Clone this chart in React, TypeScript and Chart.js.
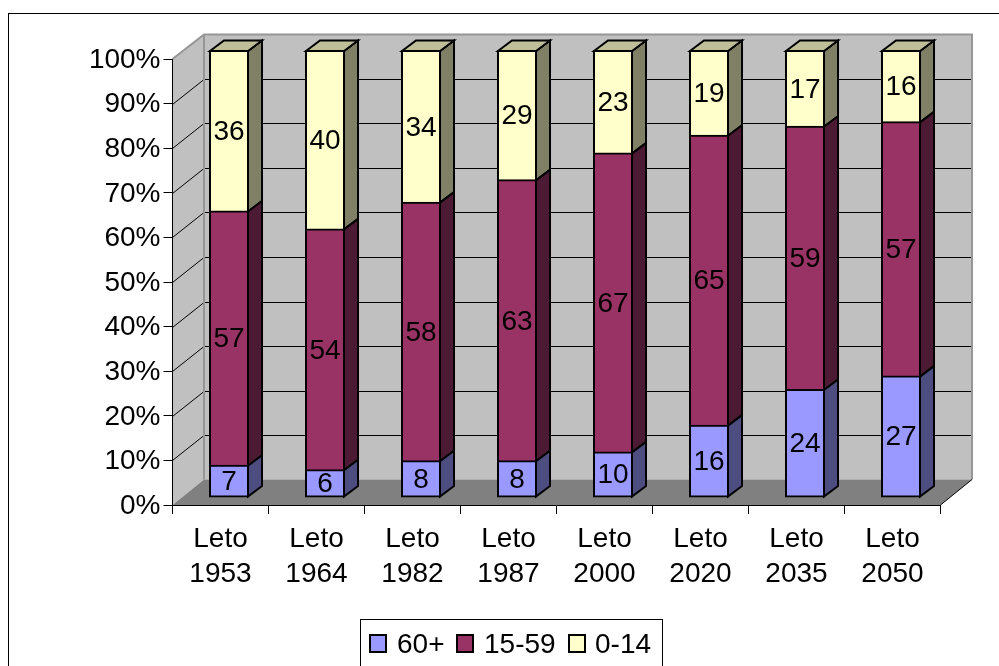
import React, { useEffect, useRef } from "react";
import { Chart, registerables } from "chart.js";

Chart.register(...registerables);

const categories = [
  ["Leto", "1953"], ["Leto", "1964"], ["Leto", "1982"], ["Leto", "1987"],
  ["Leto", "2000"], ["Leto", "2020"], ["Leto", "2035"], ["Leto", "2050"],
];
const seniors = [7, 6, 8, 8, 10, 16, 24, 27];
const adults = [57, 54, 58, 63, 67, 65, 59, 57];
const children = [36, 40, 34, 29, 23, 19, 17, 16];

const FONT = '"Liberation Sans", Arial, sans-serif';
const WALL_DX = 31.5, WALL_DY = -24.5; // depth of the chart box
const BAR_DX = 8.5, BAR_DY = -8;       // where the bars stand inside the box
const SIDE_DX = 14, SIDE_DY = -10.5;   // depth of each bar

const poly = (ctx: CanvasRenderingContext2D, pts: number[][], fill: string | null, stroke?: string, lw = 1) => {
  ctx.beginPath();
  pts.forEach((p, i) => (i ? ctx.lineTo(p[0], p[1]) : ctx.moveTo(p[0], p[1])));
  ctx.closePath();
  if (fill) { ctx.fillStyle = fill; ctx.fill(); }
  if (stroke) { ctx.strokeStyle = stroke; ctx.lineWidth = lw; ctx.stroke(); }
};

const box3d = {
  id: "box3d",
  beforeDraw(chart: any) {
    const { ctx, chartArea: a, scales } = chart;
    ctx.save();
    // outer frame (runs off the right and bottom of the picture)
    ctx.strokeStyle = "#000";
    ctx.lineWidth = 1;
    ctx.strokeRect(8.5, 13.5, 1100, 800);
    const L = a.left, R = a.right, T = a.top, B = a.bottom;
    const bx = L + WALL_DX, rx = R + WALL_DX, ty = T + WALL_DY, by = B + WALL_DY - 1;
    // side wall, back wall, floor
    poly(ctx, [[L, T], [bx, ty], [bx, by], [L, B]], "#c0c0c0");
    ctx.fillStyle = "#c0c0c0";
    ctx.fillRect(bx, ty, rx - bx, by - ty);
    poly(ctx, [[L, B], [R, B], [rx, by], [bx, by]], "#808080");
    // gridlines
    ctx.strokeStyle = "#000";
    ctx.lineWidth = 1;
    for (let v = 10; v <= 90; v += 10) {
      const y = Math.round(scales.y.getPixelForValue(v)) + 0.5;
      const backY = y + Math.floor(WALL_DY);
      ctx.beginPath();
      ctx.moveTo(L, y);
      ctx.lineTo(bx, backY);
      ctx.lineTo(rx, backY);
      ctx.stroke();
    }
    // wall edges
    ctx.strokeStyle = "#969696";
    ctx.lineWidth = 2;
    ctx.beginPath();
    ctx.moveTo(L, T);
    ctx.lineTo(bx, ty);
    ctx.lineTo(rx, ty);
    ctx.lineTo(rx, by);
    ctx.moveTo(bx, ty);
    ctx.lineTo(bx, by);
    ctx.stroke();
    ctx.strokeStyle = "#000";
    ctx.lineWidth = 1;
    ctx.beginPath();
    ctx.moveTo(R, B);
    ctx.lineTo(rx, by);
    ctx.stroke();
    ctx.restore();
  },
  beforeDatasetDraw(chart: any, args: any) {
    const { ctx } = chart;
    ctx.save();
    ctx.translate(BAR_DX, BAR_DY);
    const ds = chart.data.datasets[args.index];
    const meta = chart.getDatasetMeta(args.index);
    const last = args.index === chart.data.datasets.length - 1;
    meta.data.forEach((bar: any) => {
      const r = bar.x + bar.width / 2;
      const l = bar.x - bar.width / 2;
      poly(ctx, [[r, bar.y], [r + SIDE_DX, bar.y + SIDE_DY], [r + SIDE_DX, bar.base + SIDE_DY], [r, bar.base]], ds.sideColor, "#000", 2);
      if (last) {
        poly(ctx, [[l, bar.y], [l + SIDE_DX, bar.y + SIDE_DY], [r + SIDE_DX, bar.y + SIDE_DY], [r, bar.y]], ds.topColor, "#000", 2);
      }
    });
  },
  afterDatasetDraw(chart: any) {
    chart.ctx.restore();
  },
  afterDatasetsDraw(chart: any) {
    const { ctx } = chart;
    ctx.save();
    ctx.font = `28px ${FONT}`;
    ctx.fillStyle = "#000";
    ctx.textAlign = "center";
    ctx.textBaseline = "middle";
    chart.data.datasets.forEach((ds: any, i: number) => {
      chart.getDatasetMeta(i).data.forEach((bar: any, j: number) => {
        ctx.fillText(String(ds.data[j]), bar.x + BAR_DX, (bar.y + bar.base) / 2 + BAR_DY + 1);
      });
    });
    ctx.restore();
  },
  afterDraw(chart: any) {
    const { ctx } = chart;
    ctx.save();
    // legend
    ctx.strokeStyle = "#000";
    ctx.lineWidth = 1;
    ctx.strokeRect(360.5, 619.5, 302, 80);
    const swatches = [370, 457, 569];
    const texts = [397, 484, 595];
    ctx.font = `28px ${FONT}`;
    ctx.textAlign = "left";
    ctx.textBaseline = "alphabetic";
    chart.data.datasets.forEach((ds: any, i: number) => {
      ctx.fillStyle = ds.backgroundColor;
      ctx.fillRect(swatches[i], 635, 16, 17);
      ctx.lineWidth = 2;
      ctx.strokeStyle = "#000";
      ctx.strokeRect(swatches[i], 635, 16, 17);
      ctx.fillStyle = "#000";
      ctx.fillText(ds.label, texts[i], 653);
    });
    ctx.restore();
  },
};

export default function App() {
  const ref = useRef<HTMLCanvasElement>(null);
  useEffect(() => {
    const common = { borderColor: "#000", borderWidth: 2, inflateAmount: 1, barPercentage: 0.396, categoryPercentage: 1, clip: false };
    const chart = new Chart(ref.current!, {
      type: "bar",
      data: {
        labels: categories,
        datasets: [
          { label: "60+", data: seniors, backgroundColor: "#9999ff", sideColor: "#4d4d80", topColor: "#7373bf", borderSkipped: false, ...common },
          { label: "15-59", data: adults, backgroundColor: "#993366", sideColor: "#4d1a33", topColor: "#73264d", borderSkipped: "bottom", ...common },
          { label: "0-14", data: children, backgroundColor: "#ffffcc", sideColor: "#808066", topColor: "#bfbf99", borderSkipped: "bottom", ...common },
        ] as any,
      },
      options: {
        animation: false,
        responsive: false,
        events: [],
        layout: { padding: { left: 0, top: 59, right: 58.5, bottom: 0 } },
        plugins: { legend: { display: false }, tooltip: { enabled: false } },
        scales: {
          x: {
            stacked: true,
            afterFit: (s: any) => { s.height = 161; },
            grid: { drawOnChartArea: false, color: "#000", tickLength: 9 },
            border: { color: "#000", width: 1 },
            ticks: { color: "#000", font: { family: FONT, size: 28, lineHeight: 35 / 28 }, maxRotation: 0, autoSkip: false, padding: 8 },
          },
          y: {
            stacked: true,
            min: 0,
            max: 100,
            afterFit: (s: any) => { s.width = 172.5; },
            grid: { drawOnChartArea: false, color: "#000", tickLength: 9 },
            border: { color: "#000", width: 1 },
            ticks: { stepSize: 10, color: "#000", font: { family: FONT, size: 28 }, padding: 3, labelOffset: 1, callback: (v: any) => `${v}%` },
          },
        },
      },
      plugins: [box3d],
    } as any);
    return () => chart.destroy();
  }, []);
  return <canvas ref={ref} width={999} height={666} style={{ position: "fixed", left: 0, top: 0, display: "block" }} />;
}
